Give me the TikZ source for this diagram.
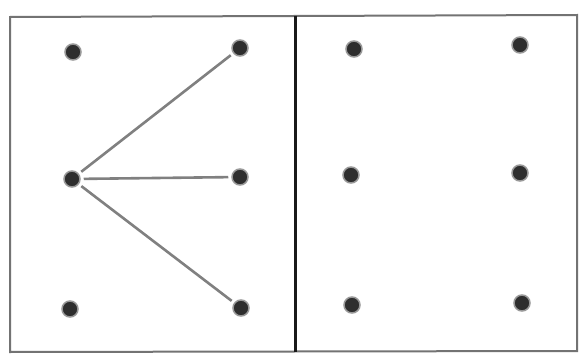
\documentclass[tikz,border=0pt]{standalone}
\begin{document}
\begin{tikzpicture}[x=1pt,y=-1pt,
  dot/.style={circle,fill=black!82,draw=black!40,line width=1.5pt,inner sep=0pt,minimum size=16pt},
  frame/.style={draw=black!55,line width=2pt},
  divider/.style={draw=black!90,line width=3pt},
  link/.style={draw=black!50,line width=2.6pt,shorten <=3pt,shorten >=3pt}]
\useasboundingbox (0,0) rectangle (582,356);
\fill[white] (0,0) rectangle (582,356);
% outer frame
\coordinate (tl) at (10,17);
\coordinate (tr) at (577,15);
\coordinate (br) at (577,351);
\coordinate (bl) at (10,352);
\draw[frame] (tl) -- (tr) -- (br) -- (bl) -- cycle;
\coordinate (dt) at (295,16);
\coordinate (db) at (295,352);
\draw[divider] (dt) -- (db);
% left panel dots
\node[dot] (a1) at (73,52) {};
\node[dot] (a2) at (240,48) {};
\node[dot] (b1) at (72,179) {};
\node[dot] (b2) at (240,177) {};
\node[dot] (c1) at (70,309) {};
\node[dot] (c2) at (241,308) {};
% right panel dots
\node[dot] (d1) at (354,49) {};
\node[dot] (d2) at (520,45) {};
\node[dot] (e1) at (351,175) {};
\node[dot] (e2) at (520,173) {};
\node[dot] (f1) at (352,305) {};
\node[dot] (f2) at (522,303) {};
% connectors
\draw[link] (b1) -- (a2);
\draw[link] (b1) -- (b2);
\draw[link] (b1) -- (c2);
\end{tikzpicture}
\end{document}
